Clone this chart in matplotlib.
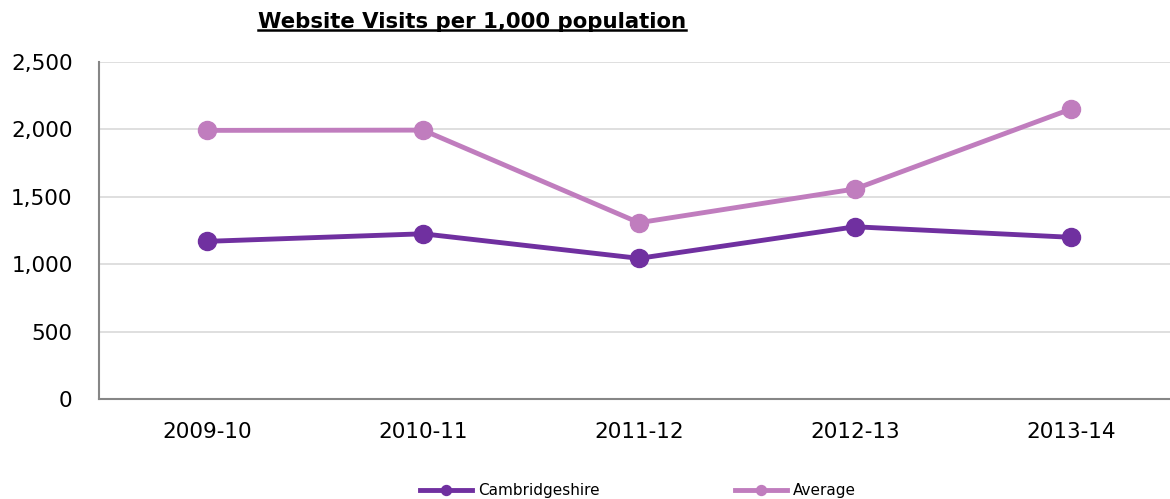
"""Website visits per 1,000 population: Cambridgeshire vs average."""
import matplotlib
matplotlib.use("Agg")
import matplotlib.pyplot as plt
from matplotlib.lines import Line2D
from matplotlib.ticker import FuncFormatter

YEARS = ["2009-10", "2010-11", "2011-12", "2012-13", "2013-14"]
CAMBS = [1170, 1226, 1044, 1278, 1200]
AVERAGE = [1992, 1994, 1308, 1558, 2150]

C_CAMBS = "#7030A0"
C_AVG = "#C07DBE"
C_GRID = "#D9D9D9"
C_AXIS = "#868686"

plt.rcParams["font.family"] = ["DejaVu Sans"]

fig = plt.figure(figsize=(11.7, 4.99), dpi=100, facecolor="white")
ax = fig.add_axes([99 / 1170, 99.7 / 499, 1080 / 1170, 337.5 / 499])

x = range(len(YEARS))
ax.plot(x, CAMBS, color=C_CAMBS, linewidth=3.5, marker="o", markersize=13,
        label="Cambridgeshire", zorder=3)
ax.plot(x, AVERAGE, color=C_AVG, linewidth=3.5, marker="o", markersize=13,
        label="Average", zorder=3)

ax.set_xlim(-0.5, len(YEARS) - 0.5)
ax.set_ylim(0, 2500)
ax.set_yticks(range(0, 2501, 500))
ax.yaxis.set_major_formatter(FuncFormatter(lambda v, _: f"{int(v):,}"))
ax.set_xticks(list(x))
ax.set_xticklabels(YEARS)
ax.tick_params(axis="both", length=0, labelsize=15.5, colors="black")
ax.tick_params(axis="y", pad=19)
ax.tick_params(axis="x", pad=16)
ax.grid(True, axis="y", color=C_GRID, linewidth=1.2)
ax.set_axisbelow(True)
for side in ("top", "right"):
    ax.spines[side].set_visible(False)
for side in ("left", "bottom"):
    ax.spines[side].set_color(C_AXIS)
    ax.spines[side].set_linewidth(1.5)

# title with underline
title = fig.text(258 / 1170, 1 - 22 / 499, "Website Visits per 1,000 population",
                 fontsize=15.3, fontweight="bold", ha="left", va="center")
fig.canvas.draw()
bb = title.get_window_extent().transformed(fig.transFigure.inverted())
fig.add_artist(Line2D([bb.x0, bb.x1], [bb.y0 + 0.004, bb.y0 + 0.004],
                      transform=fig.transFigure, color="black", linewidth=1.8))

fig.legend(loc="center", bbox_to_anchor=(638 / 1170, 8 / 499), ncol=2,
           frameon=False, fontsize=11, handlelength=3.4, handletextpad=0.4,
           columnspacing=8.9, markerscale=0.55)

fig.savefig("out.png", dpi=100, facecolor="white")
